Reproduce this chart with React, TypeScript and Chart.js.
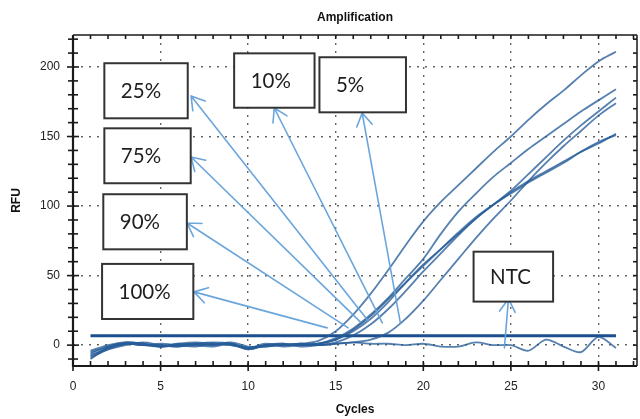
import React, { useEffect, useRef } from 'react';
import { Chart, registerables } from 'chart.js';

Chart.register(...registerables);

// ---- data ----
const cycles = [1, 2, 3, 4, 5, 6, 7, 8, 9, 10, 11, 12, 13, 14, 15, 16, 17, 18, 19, 20, 21, 22, 23, 24, 25, 26, 27, 28, 29, 30, 31];

const sample100 = [-6, -1, 2, 1, -1, 1, 2, 1, 0, -2, 0, 0, 1, 3, 10, 22, 37, 54, 72, 89, 103, 115, 127, 139, 150, 162, 173, 183, 194, 204, 211];
const sample90 = [-9, -3, 1, 0, 0, -1, 1, 2, 1, -3, 0, 1, 0, 1, 5, 12, 22, 34, 48, 62, 80, 96, 109, 121, 131, 141, 150, 159, 168, 176, 184];
const sample75 = [-4, 0, 2, 1, -1, 0, 1, 0, 2, -1, -1, 0, 1, 1, 4, 10, 19, 31, 45, 58, 69, 80, 91, 101, 111, 123, 135, 147, 158, 168, 178];
const sample25 = [-10, -2, 1, 0, 1, 0, -1, 1, 0, -2, -1, 0, 0, 1, 4, 11, 21, 33, 45, 57, 69, 81, 92, 101, 109, 117, 124, 131, 139, 146, 151];
const sample10 = [-7, -3, 0, 2, 0, -1, 0, 1, 1, -3, 0, 1, -1, 0, 2, 7, 15, 26, 39, 53, 66, 79, 91, 101, 110, 118, 125, 132, 139, 145, 152];
const sample5 = [-5, -1, 1, 0, -1, 1, 0, -1, 1, -2, 1, -1, 0, 0, 1, 2, 4, 9, 19, 32, 47, 62, 77, 91, 104, 118, 131, 143, 154, 165, 174];
const ntc = [-8, -2, 1, 1, -1, 0, 1, 0, 1, -2, 0, 0, 1, 0, 1, 2, 1, 1, 0, 1, -1, -1, 2, 0, 0, -4, 4, -1, -5, 6, -2];

const thresholdValue = 6.8;
const thresholdStart = 1;
const thresholdEnd = 31;

const xTicks = [0, 5, 10, 15, 20, 25, 30];
const yTicks = [0, 50, 100, 150, 200];
const xMin = 0;
const xMax = 32.2;
const yMin = -15;
const yMax = 223;

// annotation labels (positions in data units: cycles / RFU)
const boxLabels = ['25%', '75%', '90%', '100%', '10%', '5%', 'NTC'];
const boxLeft = [1.79, 1.79, 1.73, 1.66, 9.2, 14.07, 22.87];
const boxRight = [6.55, 6.72, 6.5, 6.87, 13.79, 19.01, 27.41];
const boxTop = [202.7, 155.9, 108.5, 58.4, 209.8, 207.0, 67.2];
const boxBottom = [163.1, 116.4, 68.9, 18.8, 170.7, 167.4, 31.3];
const arrowHeadX = [6.74, 6.74, 6.51, 6.91, 11.49, 16.51, 24.86];
const arrowHeadY = [179.2, 135.3, 87.8, 38.3, 170.5, 166.9, 33.2];
const arrowTailX = [16.86, 16.4, 15.71, 14.51, 17.66, 18.69, 24.63];
const arrowTailY = [17.4, 16.7, 12.4, 12.4, 16.0, 16.0, -2.0];

const CURVE = 'rgba(38, 92, 152, 0.78)';
const FONT = '"Liberation Sans", Arial, sans-serif';

const toPoints = (vals: number[]) => vals.map((v, i) => ({ x: cycles[i], y: v }));

const annotationPlugin = {
  id: 'annotations',
  afterDatasetsDraw(chart: any) {
    const { ctx, scales } = chart;
    const xs = scales.x;
    const ys = scales.y;
    ctx.save();
    ctx.strokeStyle = 'rgba(98, 160, 218, 0.95)';
    ctx.lineWidth = 1.6;
    ctx.lineCap = 'round';
    for (let i = 0; i < boxLabels.length; i++) {
      const hx = xs.getPixelForValue(arrowHeadX[i]);
      const hy = ys.getPixelForValue(arrowHeadY[i]);
      const tx = xs.getPixelForValue(arrowTailX[i]);
      const ty = ys.getPixelForValue(arrowTailY[i]);
      const ang = Math.atan2(ty - hy, tx - hx);
      const L = 15;
      ctx.beginPath();
      ctx.moveTo(tx, ty);
      ctx.lineTo(hx, hy);
      for (const s of [-1, 1]) {
        ctx.moveTo(hx, hy);
        ctx.lineTo(hx + L * Math.cos(ang + s * 0.55), hy + L * Math.sin(ang + s * 0.55));
      }
      ctx.stroke();
    }
    for (let i = 0; i < boxLabels.length; i++) {
      const l = xs.getPixelForValue(boxLeft[i]);
      const r = xs.getPixelForValue(boxRight[i]);
      const t = ys.getPixelForValue(boxTop[i]);
      const b = ys.getPixelForValue(boxBottom[i]);
      ctx.fillStyle = '#ffffff';
      ctx.fillRect(l, t, r - l, b - t);
      ctx.strokeStyle = '#333333';
      ctx.lineWidth = 2;
      ctx.strokeRect(l, t, r - l, b - t);
      ctx.fillStyle = '#1e1e1e';
      ctx.font = '20.5px Lato, "Open Sans", sans-serif';
      ctx.textAlign = 'left';
      ctx.textBaseline = 'middle';
      ctx.fillText(boxLabels[i], l + 16.5, (t + b) / 2 + 1);
    }
    ctx.restore();
  },
};

const framePlugin = {
  id: 'frame',
  afterDraw(chart: any) {
    const { ctx, chartArea, scales } = chart;
    const { left, right, top, bottom } = chartArea;
    const xs = scales.x;
    const ys = scales.y;
    ctx.save();
    ctx.strokeStyle = '#1a1a1a';
    const line = (x1: number, y1: number, x2: number, y2: number) => {
      ctx.beginPath();
      ctx.moveTo(x1, y1);
      ctx.lineTo(x2, y2);
      ctx.stroke();
    };
    ctx.lineWidth = 1.5;
    line(left, top, right, top);
    line(right, top, right, bottom);
    ctx.lineWidth = 2.2;
    line(left, top, left, bottom + 1);
    line(left - 1, bottom, right, bottom);
    ctx.lineWidth = 1.6;
    for (let c = Math.ceil(xMin); c <= xMax; c++) {
      const px = xs.getPixelForValue(c);
      const major = c % 5 === 0;
      line(px, bottom - 5, px, bottom + (major ? 5 : 0));
      line(px, top, px, top + 4);
    }
    for (let v = Math.ceil(yMin / 10) * 10; v <= yMax; v += 10) {
      const py = ys.getPixelForValue(v);
      const major = v % 50 === 0;
      line(left - (major ? 6 : 5), py, left + (major ? 6 : 5), py);
      line(right - 4, py, right, py);
    }
    ctx.restore();
  },
};

export default function App() {
  const ref = useRef<HTMLCanvasElement | null>(null);
  useEffect(() => {
    document.body.style.margin = '0';
    const canvas = ref.current;
    if (!canvas) return;
    const series = [sample100, sample90, sample75, sample25, sample10, sample5];
    const names = ['100%', '90%', '75%', '25%', '10%', '5%'];
    const datasets: any[] = series.map((s, i) => ({
      label: names[i],
      data: toPoints(s),
      borderColor: CURVE,
      borderWidth: 1.8,
      pointRadius: 0,
      tension: 0.35,
      fill: false,
    }));
    datasets.push({
      label: 'NTC',
      data: toPoints(ntc),
      borderColor: CURVE,
      borderWidth: 1.8,
      pointRadius: 0,
      tension: 0.3,
      fill: false,
    });
    datasets.push({
      label: 'Threshold',
      data: [
        { x: thresholdStart, y: thresholdValue },
        { x: thresholdEnd, y: thresholdValue },
      ],
      borderColor: '#1b4f8e',
      borderWidth: 3,
      pointRadius: 0,
      fill: false,
    });
    const chart = new Chart(canvas, {
      type: 'line',
      data: { datasets },
      options: {
        responsive: false,
        animation: false,
        devicePixelRatio: 1,
        layout: { padding: { left: 0, right: 3, top: 0, bottom: 0 } },
        plugins: {
          legend: { display: false },
          tooltip: { enabled: false },
          title: {
            display: true,
            text: 'Amplification',
            fullSize: false,
            color: '#111',
            font: { family: FONT, size: 12, weight: 'bold' },
            padding: { top: 10, bottom: 10.6 },
          },
        },
        scales: {
          x: {
            type: 'linear',
            min: xMin,
            max: xMax,
            afterBuildTicks: (s: any) => {
              s.ticks = xTicks.map((v) => ({ value: v }));
            },
            afterFit: (s: any) => {
              s.height = 53;
            },
            ticks: {
              color: '#222',
              font: { family: FONT, size: 12 },
              padding: 13,
              maxRotation: 0,
              callback: (v: any) => String(v),
            },
            grid: { color: '#666', lineWidth: 1.4, drawTicks: false },
            border: { display: false, dash: [2, 6] },
            title: {
              display: true,
              text: 'Cycles',
              color: '#111',
              font: { family: FONT, size: 12, weight: 'bold' },
              padding: { top: 0, bottom: 2 },
            },
          },
          y: {
            type: 'linear',
            min: yMin,
            max: yMax,
            afterBuildTicks: (s: any) => {
              s.ticks = yTicks.map((v) => ({ value: v }));
            },
            afterFit: (s: any) => {
              s.width = 73;
            },
            ticks: {
              color: '#222',
              font: { family: FONT, size: 12 },
              padding: 13,
              callback: (v: any) => String(v),
            },
            grid: { color: '#666', lineWidth: 1.4, drawTicks: false },
            border: { display: false, dash: [2, 6] },
            title: {
              display: true,
              text: 'RFU',
              color: '#111',
              font: { family: FONT, size: 12, weight: 'bold' },
              padding: { top: 9, bottom: 0 },
            },
          },
        },
      },
      plugins: [annotationPlugin, framePlugin],
    } as any);
    return () => chart.destroy();
  }, []);
  return (
    <div style={{ width: 640, height: 419 }}>
      <canvas ref={ref} width={640} height={419} style={{ display: 'block', width: 640, height: 419 }} />
    </div>
  );
}
